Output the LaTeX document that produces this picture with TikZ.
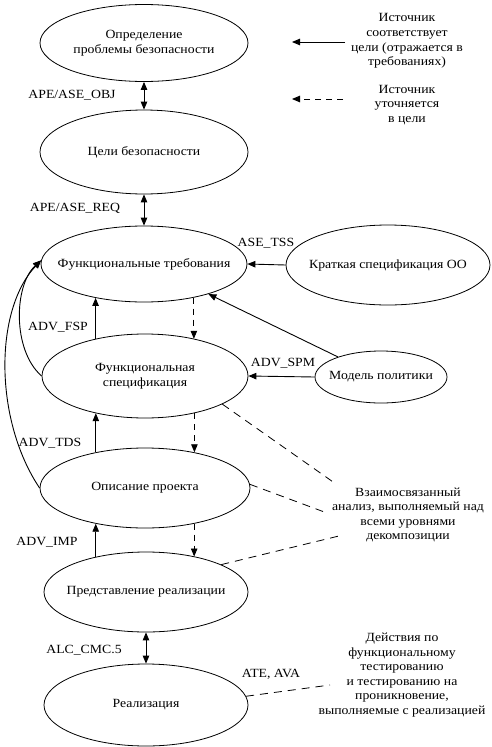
\documentclass[tikz,border=0pt]{standalone}
\usepackage{fontspec}
\setmainfont{Liberation Serif}[FakeStretch=1.1]
\usetikzlibrary{shapes.geometric,arrows.meta}
\begin{document}
\begin{tikzpicture}[x=1pt,y=-1pt,
  ell/.style={draw,ellipse,line width=0.8pt,inner sep=0pt},
  lbl/.style={align=center,inner sep=0pt,font=\fontsize{12.5}{14.6}\selectfont},
  arr/.style={line width=0.9pt,-{Triangle[length=8pt,width=6.5pt]}},
  darr/.style={line width=0.9pt,{Triangle[length=8pt,width=6.5pt]}-{Triangle[length=8pt,width=6.5pt]}},
  dasharr/.style={arr,dash pattern=on 6pt off 5pt},
  dline/.style={line width=0.8pt,dash pattern=on 8pt off 6pt}]
\useasboundingbox (0,0) rectangle (491,747);
% ellipses
\node[ell,minimum width=208,minimum height=77,label={[lbl]center:{Определение\\проблемы безопасности}}] (e1) at (144,43) {};
\node[ell,minimum width=208,minimum height=84,label={[lbl]center:Цели безопасности}] (e2) at (144,152) {};
\node[ell,minimum width=206,minimum height=76,label={[lbl]center:Функциональные требования}] (e3) at (144,264) {};
\node[ell,minimum width=204,minimum height=80,label={[lbl]center:Краткая спецификация ОО}] (e4) at (388,265) {};
\node[ell,minimum width=206,minimum height=84,label={[lbl]center:{Функциональная\\спецификация}}] (e5) at (145,376) {};
\node[ell,minimum width=132,minimum height=52,label={[lbl]center:Модель политики}] (e6) at (381,377) {};
\node[ell,minimum width=210,minimum height=80,label={[lbl]center:Описание проекта}] (e7) at (145,488) {};
\node[ell,minimum width=204,minimum height=80,label={[lbl]center:Представление реализации}] (e8) at (146,592) {};
\node[ell,minimum width=204,minimum height=82,label={[lbl]center:Реализация}] (e9) at (146,705) {};
% labels
\node[lbl] (l1) at (72,95) {APE/ASE\_OBJ};
\node[lbl] (l2) at (75,208) {APE/ASE\_REQ};
\node[lbl] (l3) at (266,243) {ASE\_TSS};
\node[lbl] (l4) at (58,327) {ADV\_FSP};
\node[lbl] (l5) at (283,363) {ADV\_SPM};
\node[lbl] (l6) at (50,443) {ADV\_TDS};
\node[lbl] (l7) at (47,542) {ADV\_IMP};
\node[lbl] (l8) at (84,650) {ALC\_CMC.5};
\node[lbl] (l9) at (271,674) {ATE, AVA};
% legend
\node[lbl] (t1) at (407,41) {Источник\\соответствует\\цели (отражается в\\требованиях)};
\node[lbl] (t2) at (407,105) {Источник\\уточняется\\в цели};
\coordinate (a1s) at (345,42); \coordinate (a1e) at (292,42);
\coordinate (a2s) at (343,99); \coordinate (a2e) at (292,99);
\draw[arr] (a1s) -- (a1e);
\draw[dasharr] (a2s) -- (a2e);
% side texts
\node[lbl] (t3) at (408,515) {Взаимосвязанный\\анализ, выполняемый над\\всеми уровнями\\декомпозиции};
\node[lbl] (t4) at (402,675) {Действия по\\функциональному\\тестированию\\и тестированию на\\проникновение,\\выполняемые с реализацией};
% connectors
\draw[darr] (e1.south) -- (e2.north);
\draw[darr] (e2.south) -- (e3.north);
\draw[darr] (e8.south) -- (e9.north);
\draw[arr] (e4.west) -- (e3.east);
\draw[arr] (e6.west) -- (e5.east);
\draw[arr] (e6.155) -- (e3.335);
\draw[arr] (e5.143) -- (e5.143 |- e3.215);
\draw[dasharr] (e3.326) -- (e3.326 |- e5.37);
\draw[arr] (e7.144) -- (e7.144 |- e5.217);
\draw[dasharr] (e5.323) -- (e5.323 |- e7.36);
\draw[arr] (e8.145) -- (e8.145 |- e7.216);
\draw[dasharr] (e7.324) -- (e7.324 |- e8.36);
\draw[arr] (e5.west) .. controls (12,350) and (14,285) .. (e3.178);
\draw[arr] (e7.west) .. controls (-6,420) and (-6,310) .. (e3.178);
% dashed analysis lines
\coordinate (d1) at (336,484);
\coordinate (d2) at (327,513);
\coordinate (d3) at (343,535);
\coordinate (d4) at (330,685);
\draw[dline] (e5.340) -- (d1);
\draw[dline] (e7.2) -- (d2);
\draw[dline] (e8.20) -- (d3);
\draw[dline] (e9.5) -- (d4);
\end{tikzpicture}
\end{document}
